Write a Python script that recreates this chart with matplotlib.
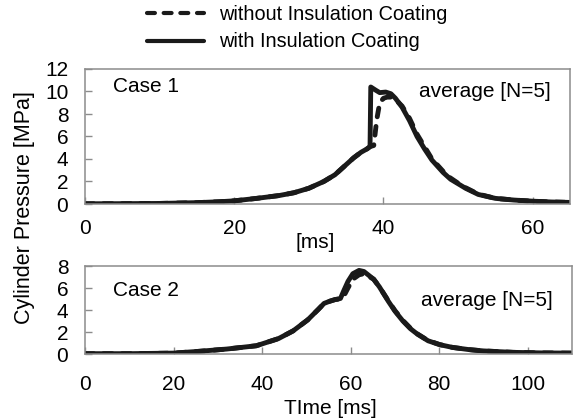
import matplotlib
matplotlib.use("Agg")
import matplotlib.pyplot as plt
from matplotlib.lines import Line2D

plt.rcParams['font.family'] = ['Liberation Sans', 'DejaVu Sans']

# ---- Case 1 data (time in ms, pressure in MPa) ----
t1_with = [0, 5, 10, 15, 18, 20, 23, 26, 28, 30, 32, 33.5, 35, 36, 37, 37.8, 38.2, 38.3,
           39, 39.5, 40.3, 41, 41.6, 42.5, 43.5, 44.5, 45.5, 46.5, 48, 49, 50, 51,
           52.7, 55, 57.5, 60, 62.5, 65]
p1_with = [0.02, 0.03, 0.05, 0.12, 0.2, 0.28, 0.5, 0.75, 1.0, 1.4, 2.0, 2.6, 3.5, 4.1,
           4.6, 4.9, 5.1, 10.4, 10.1, 9.9, 9.95, 9.8, 9.4, 8.6, 7.4, 6.0, 4.9, 3.9, 2.8,
           2.2, 1.8, 1.4, 0.85, 0.5, 0.35, 0.25, 0.18, 0.14]

t1_without = [0, 5, 10, 15, 18, 20, 23, 26, 28, 30, 32, 33.5, 35, 36, 37, 37.8, 38.2,
              38.7, 39.1, 39.5, 40.0, 40.5, 41.0, 41.6, 42.5, 43.5, 44.5, 45.5, 46.5,
              48, 49, 50, 51, 52.7, 55, 57.5, 60, 62.5, 65]
p1_without = [0.02, 0.03, 0.05, 0.12, 0.2, 0.28, 0.5, 0.75, 1.0, 1.4, 2.0, 2.6, 3.5, 4.1,
              4.6, 4.9, 5.1, 5.2, 7.5, 9.0, 9.4, 9.5, 9.5, 9.3, 8.7, 7.6, 6.2, 5.1, 4.0,
              2.9, 2.3, 1.85, 1.45, 0.88, 0.5, 0.35, 0.25, 0.18, 0.14]

# ---- Case 2 data ----
t2_with = [0, 10, 20, 26, 32, 38.7, 43.7, 47, 50.3, 52.8, 54, 55.3, 56.5, 57.7, 58.5,
           59.4, 60.5, 61.9, 63, 65.2, 66.5, 68.5, 70, 71.8, 73.5, 75.1, 77.5, 80.1, 83,
           86.7, 90, 96.7, 103, 110]
p2_with = [0.03, 0.03, 0.08, 0.25, 0.45, 0.75, 1.4, 2.1, 3.1, 4.1, 4.6, 4.8, 4.95, 5.05,
           5.8, 6.6, 7.3, 7.6, 7.5, 6.8, 6.1, 4.8, 3.9, 3.0, 2.3, 1.8, 1.2, 0.85, 0.6,
           0.4, 0.28, 0.15, 0.1, 0.08]

t2_without = [0, 10, 20, 26, 32, 38.7, 43.7, 47, 50.3, 52.8, 54, 55.3, 56.5, 57.7, 58.5,
              59.4, 60.5, 61.9, 63, 65.2, 66.5, 68.5, 70, 71.8, 73.5, 75.1, 77.5, 80.1,
              83, 86.7, 90, 96.7, 103, 110]
p2_without = [0.03, 0.03, 0.08, 0.25, 0.45, 0.75, 1.4, 2.1, 3.1, 4.1, 4.6, 4.8, 4.95,
              5.0, 5.3, 6.0, 6.8, 7.2, 7.3, 6.8, 6.1, 4.85, 3.95, 3.05, 2.35, 1.82, 1.22,
              0.86, 0.6, 0.4, 0.28, 0.15, 0.1, 0.08]

x1_ticks = [0, 20, 40, 60]
y1_ticks = [0, 2, 4, 6, 8, 10, 12]
x2_ticks = [0, 20, 40, 60, 80, 100]
y2_ticks = [0, 2, 4, 6, 8]

label_without = "without Insulation Coating"
label_with = "with Insulation Coating"

fig = plt.figure(figsize=(5.76, 4.19), dpi=100)
W, H = 576, 419
ax1 = fig.add_axes([85 / W, (H - 204) / H, (570 - 85) / W, 135 / H])
ax2 = fig.add_axes([85 / W, (H - 354) / H, (572 - 85) / W, 88 / H])

LW = 3.5
dash_kw = dict(linestyle=(0, (1.8, 2.0)), dash_capstyle='round')
spine_color = '#8c8c8c'
FS = 15

for ax, tw, pw, two, pwo in [(ax1, t1_with, p1_with, t1_without, p1_without),
                             (ax2, t2_with, p2_with, t2_without, p2_without)]:
    ax.plot(two, pwo, color='#1a1a1a', lw=LW, **dash_kw)
    ax.plot(tw, pw, color='#1a1a1a', lw=LW, solid_capstyle='round')
    for s in ax.spines.values():
        s.set_color(spine_color)
        s.set_linewidth(1.1)
    ax.tick_params(direction='in', length=5, width=1.0, color=spine_color,
                   labelsize=FS, labelcolor='black')
    ax.tick_params(axis='y', pad=12)

ax1.set_xlim(0, 65)
ax1.set_ylim(0, 12)
ax1.set_xticks(x1_ticks)
ax1.set_yticks(y1_ticks)
ax1.tick_params(axis='x', pad=11)

ax2.set_xlim(0, 110)
ax2.set_ylim(0, 8)
ax2.set_xticks(x2_ticks)
ax2.set_yticks(y2_ticks)
ax2.tick_params(axis='x', pad=15)

ax1.text(0.058, 0.867, "Case 1", transform=ax1.transAxes, fontsize=FS, va='center')
ax1.text(0.961, 0.83, "average [N=5]", transform=ax1.transAxes, fontsize=FS,
         va='center', ha='right')
ax2.text(0.058, 0.727, "Case 2", transform=ax2.transAxes, fontsize=FS, va='center')
ax2.text(0.961, 0.61, "average [N=5]", transform=ax2.transAxes, fontsize=FS,
         va='center', ha='right')

ax1.set_xlabel("[ms]", fontsize=FS)
ax1.xaxis.set_label_coords((315 - 85) / 485, (204 - 242) / 135)
ax1.xaxis.label.set_va('center')
ax2.set_xlabel("TIme [ms]", fontsize=FS)
ax2.xaxis.set_label_coords((330 - 85) / 487, (354 - 408) / 88)
ax2.xaxis.label.set_va('center')

fig.text(25 / W, 1 - 208 / H, "Cylinder Pressure [MPa]", rotation=90,
         fontsize=15.5, ha='center', va='center')

handles = [Line2D([], [], color='#1a1a1a', lw=3, linestyle=(0, (1.9, 2.1)),
                  dash_capstyle='round'),
           Line2D([], [], color='#1a1a1a', lw=3, solid_capstyle='round')]
fig.legend(handles, [label_without, label_with], loc='center',
           bbox_to_anchor=(297 / W, 1 - 28 / H), frameon=False, fontsize=14.3,
           handlelength=2.9, handletextpad=0.75, labelspacing=0.45,
           borderpad=0.2)

fig.savefig("out.png", dpi=100)
